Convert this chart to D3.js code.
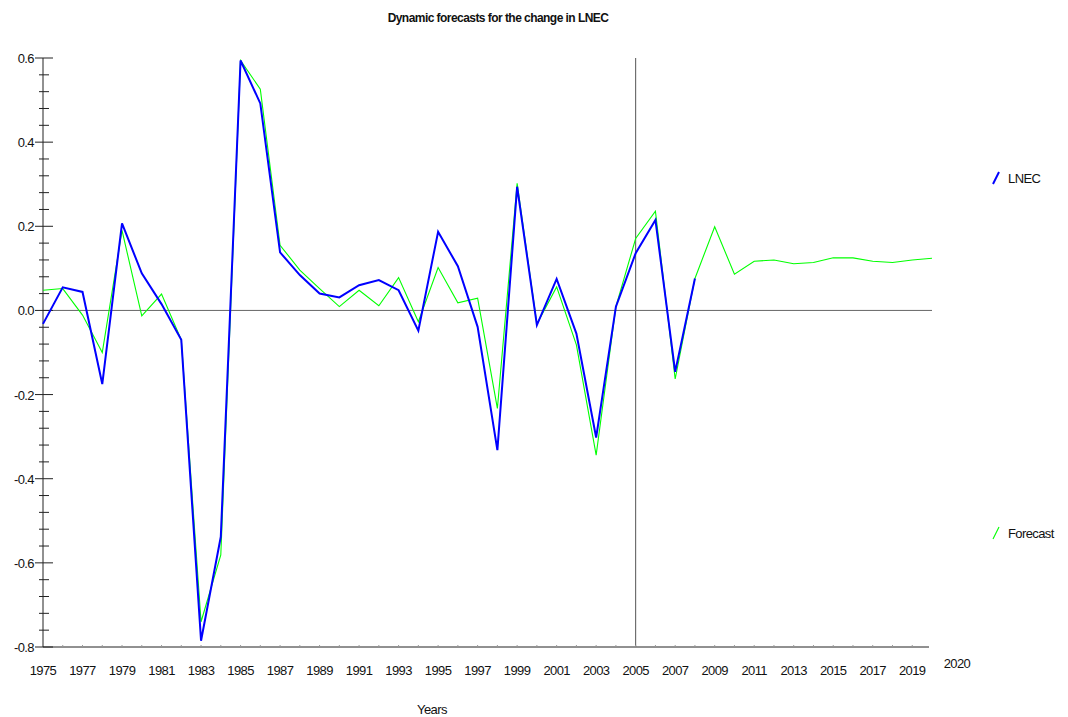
<!DOCTYPE html>
<html>
<head>
<meta charset="utf-8">
<script src="https://cdn.jsdelivr.net/npm/d3@7/dist/d3.min.js"></script>
<style>
  html, body { margin: 0; padding: 0; background: #fff; }
  svg text { font-family: "Liberation Sans", Arial, sans-serif; fill: #111; letter-spacing: -0.6px; }
</style>
</head>
<body>
<svg id="chart" width="1068" height="717"></svg>
<script>
// Observed change in LNEC, 1975-2008
const lnecYears = d3.range(1975, 2009);
const lnecValues = [
  -0.032, 0.055, 0.044, -0.175, 0.207, 0.088, 0.015, -0.070, -0.785, -0.538,
  0.594, 0.492, 0.138, 0.084, 0.040, 0.031, 0.060, 0.072, 0.048, -0.048,
  0.187, 0.105, -0.039, -0.332, 0.294, -0.035, 0.075, -0.055, -0.302, 0.009,
  0.136, 0.215, -0.146, 0.076
];

// Dynamic forecast, 1975-2020
const forecastYears = d3.range(1975, 2021);
const forecastValues = [
  0.048, 0.052, -0.011, -0.100, 0.190, -0.013, 0.039, -0.070, -0.740, -0.581,
  0.594, 0.526, 0.155, 0.096, 0.052, 0.009, 0.048, 0.011, 0.078, -0.027,
  0.102, 0.018, 0.029, -0.233, 0.302, -0.032, 0.056, -0.082, -0.344, 0.009,
  0.171, 0.236, -0.163, 0.076, 0.199, 0.086, 0.117, 0.120, 0.111, 0.114,
  0.125, 0.125, 0.117, 0.114, 0.120, 0.124
];

const yTickValues = [0.6, 0.4, 0.2, 0.0, -0.2, -0.4, -0.6, -0.8];
const xTickYears = d3.range(1975, 2020, 2);
const forecastStart = 2005;

const svg = d3.select("#chart");
const plotLeft = 43, plotRight = 932, plotTop = 58, plotBottom = 647;

const x = d3.scaleLinear().domain([1975, 2020]).range([plotLeft, plotRight]);
const y = d3.scaleLinear().domain([-0.8, 0.6]).range([plotBottom, plotTop]);

// Tick labels use a plain hyphen for negatives
const fmtY = v => d3.format(".1f")(v).replace("\u2212", "-");

// Title
svg.append("text")
  .attr("x", 498).attr("y", 22)
  .attr("text-anchor", "middle")
  .style("font-size", "12px").style("font-weight", "bold")
  .style("letter-spacing", "-0.55px")
  .text("Dynamic forecasts for the change in LNEC");

// Zero reference line
svg.append("line")
  .attr("x1", plotLeft).attr("x2", plotRight)
  .attr("y1", y(0)).attr("y2", y(0))
  .attr("stroke", "#666").attr("stroke-width", 1);

// Start of the forecast period
svg.append("line")
  .attr("x1", x(forecastStart)).attr("x2", x(forecastStart))
  .attr("y1", plotTop).attr("y2", plotBottom)
  .attr("stroke", "#555").attr("stroke-width", 1);

// Y axis: major ticks every 0.2, minor every 0.04
const yAxisG = svg.append("g");
yAxisG.append("line")
  .attr("x1", plotLeft).attr("x2", plotLeft).attr("y1", plotTop).attr("y2", plotBottom)
  .attr("stroke", "#222").attr("stroke-width", 1);
const minorY = d3.range(0, 36).map(i => -0.8 + i * 0.04).filter(v => Math.abs(Math.round(v * 5) - v * 5) > 1e-6);
yAxisG.selectAll("line.minor").data(minorY).enter().append("line")
  .attr("class", "minor")
  .attr("x1", plotLeft - 4).attr("x2", plotLeft + 6)
  .attr("y1", d => y(d)).attr("y2", d => y(d))
  .attr("stroke", "#222");
yAxisG.selectAll("line.major").data(yTickValues).enter().append("line")
  .attr("class", "major")
  .attr("x1", plotLeft - 8).attr("x2", plotLeft + 10)
  .attr("y1", d => y(d)).attr("y2", d => y(d))
  .attr("stroke", "#222");
yAxisG.selectAll("text").data(yTickValues).enter().append("text")
  .attr("x", plotLeft - 9).attr("y", d => y(d) + 5)
  .attr("text-anchor", "end")
  .style("font-size", "13px")
  .text(fmtY);

// X axis
const xAxisG = svg.append("g");
xAxisG.append("line")
  .attr("x1", plotLeft).attr("x2", 929).attr("y1", plotBottom).attr("y2", plotBottom)
  .attr("stroke", "#222");
xAxisG.selectAll("line.yr").data(d3.range(1976, 2020)).enter().append("line")
  .attr("class", "yr")
  .attr("x1", d => x(d)).attr("x2", d => x(d))
  .attr("y1", plotBottom).attr("y2", plotBottom - 2)
  .attr("stroke", "#999");
xAxisG.selectAll("text").data(xTickYears).enter().append("text")
  .attr("x", d => x(d)).attr("y", 675)
  .attr("text-anchor", "middle")
  .style("font-size", "13px")
  .text(d => d);
svg.append("text")
  .attr("x", 957).attr("y", 668)
  .attr("text-anchor", "middle")
  .style("font-size", "13px")
  .text("2020");
svg.append("text")
  .attr("x", 432).attr("y", 714)
  .attr("text-anchor", "middle")
  .style("font-size", "13px")
  .text("Years");

// Series
const line = d3.line().x(d => x(d[0])).y(d => y(d[1]));
svg.append("path")
  .datum(forecastYears.map((yr, i) => [yr, forecastValues[i]]))
  .attr("d", line)
  .attr("fill", "none").attr("stroke", "#00ff00").attr("stroke-width", 1.1);
svg.append("path")
  .datum(lnecYears.map((yr, i) => [yr, lnecValues[i]]))
  .attr("d", line)
  .attr("fill", "none").attr("stroke", "#0000ff").attr("stroke-width", 2);

// Legend
const legend = [
  { label: "LNEC", color: "#0000ff", width: 2, cy: 178 },
  { label: "Forecast", color: "#00ff00", width: 1.1, cy: 533 }
];
const lg = svg.selectAll("g.legend").data(legend).enter().append("g").attr("class", "legend");
lg.append("line")
  .attr("x1", 993).attr("x2", 999)
  .attr("y1", d => d.cy + 6).attr("y2", d => d.cy - 6)
  .attr("stroke", d => d.color).attr("stroke-width", d => d.width);
lg.append("text")
  .attr("x", 1008).attr("y", d => d.cy + 5)
  .style("font-size", "13px")
  .text(d => d.label);
</script>
</body>
</html>
